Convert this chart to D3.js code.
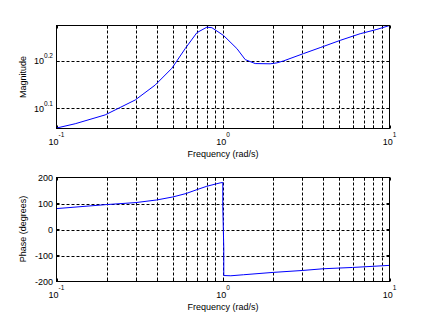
<!DOCTYPE html>
<html>
<head>
<meta charset="utf-8">
<script src="https://cdn.jsdelivr.net/npm/d3@7"></script>
<style>
  body { margin: 0; background: #fff; }
  text { font-family: Arial, "Liberation Sans", sans-serif; fill: #000; }
</style>
</head>
<body>
<svg id="chart" width="431" height="323"></svg>
<script>
// magnitude curve
const magFreq = [0.1, 0.1295, 0.196, 0.297, 0.3915, 0.4934, 0.593, 0.697, 0.80, 0.858,
  1.007, 1.212, 1.36, 1.561, 1.92, 2.107, 2.31, 3.045, 3.836, 5.057, 6.668, 8.40, 10];
const magValue = [1.144, 1.168, 1.219, 1.310, 1.408, 1.527, 1.679, 1.813, 1.862, 1.857,
  1.789, 1.679, 1.592, 1.562, 1.560, 1.567, 1.582, 1.639, 1.687, 1.747, 1.804, 1.842, 1.877];

// phase curve
const phaseFreq = [0.1, 0.2, 0.3, 0.4, 0.5, 0.6, 0.7, 0.8, 0.96, 0.997, 0.997,
  1.011, 1.011, 1.115, 1.33, 2, 3, 4, 6, 10];
const phaseValue = [80.4, 95.9, 103.6, 113.6, 125.2, 138.3, 153.7, 166.4, 179.2, 181, 87,
  -74, -177, -178, -174, -165, -157.6, -151, -146, -138];

// axes
const freqLim = [0.1, 10];
const magLim = [1.1415, 1.877];
const phaseLim = [-200, 200];
const xTickExp = ["-1", "0", "1"];
const magTickExp = ["0.1", "0.2"];
const phaseTicks = [-200, -100, 0, 100, 200];
const phaseGrid = [-100, 0, 100];

const svg = d3.select("#chart");
svg.append("rect").attr("width", 431).attr("height", 323).attr("fill", "#fff");

const left = 56.5, right = 389.5;
const x = d3.scaleLog().domain(freqLim).range([left, right]);

// minor + major positions between the decades
const xAll = [];
for (let e = -1; e < 1; e++) {
  for (let k = 1; k < 10; k++) xAll.push(k * Math.pow(10, e));
}
xAll.push(10);
const xGrid = xAll.filter(v => v > 0.1 && v < 10);

function drawPanel(top, bottom, y, hGrid, data, drawYLabels, yTitle, titleY) {
  const g = svg.append("g");

  // grid
  g.selectAll(".vg").data(xGrid).join("line")
    .attr("x1", d => Math.round(x(d)) + 0.5).attr("x2", d => Math.round(x(d)) + 0.5)
    .attr("y1", top).attr("y2", bottom)
    .attr("stroke", "#000").attr("stroke-width", 1).attr("stroke-dasharray", "3,2");
  g.selectAll(".hg").data(hGrid).join("line")
    .attr("x1", left).attr("x2", right)
    .attr("y1", d => Math.round(y(d)) + 0.5).attr("y2", d => Math.round(y(d)) + 0.5)
    .attr("stroke", "#000").attr("stroke-width", 1).attr("stroke-dasharray", "3,2");

  // ticks inward on bottom and top
  g.selectAll(".tb").data(xAll).join("line")
    .attr("x1", d => Math.round(x(d)) + 0.5).attr("x2", d => Math.round(x(d)) + 0.5)
    .attr("y1", bottom).attr("y2", bottom - 3)
    .attr("stroke", "#000");
  g.selectAll(".tt").data(xAll).join("line")
    .attr("x1", d => Math.round(x(d)) + 0.5).attr("x2", d => Math.round(x(d)) + 0.5)
    .attr("y1", top).attr("y2", top + 3)
    .attr("stroke", "#000");

  // curve
  const line = d3.line().x(d => x(d[0])).y(d => y(d[1]));
  g.append("path").datum(data)
    .attr("d", line)
    .attr("fill", "none").attr("stroke", "#0000ff").attr("stroke-width", 1);

  // box
  g.append("rect")
    .attr("x", left).attr("y", top)
    .attr("width", right - left).attr("height", bottom - top)
    .attr("fill", "none").attr("stroke", "#000").attr("stroke-width", 1);

  // x labels 10^e
  const xl = g.selectAll(".xl").data(xTickExp).join("text")
    .attr("x", d => x(Math.pow(10, +d)))
    .attr("y", bottom + 16)
    .attr("text-anchor", "middle")
    .attr("font-size", 9);
  xl.append("tspan").text("10");
  xl.append("tspan").text(d => d).attr("font-size", 6.5).attr("dy", -8);

  drawYLabels(g);

  g.append("text")
    .attr("x", (left + right) / 2).attr("y", bottom + 28.5)
    .attr("text-anchor", "middle").attr("font-size", 9)
    .text("Frequency (rad/s)");

  g.append("text")
    .attr("transform", `translate(25.5,${titleY}) rotate(-90)`)
    .attr("text-anchor", "middle").attr("font-size", 9)
    .text(yTitle);
}

// top: magnitude
const magTop = 25.5, magBottom = 128.5;
const yMag = d3.scaleLog().domain(magLim).range([magBottom, magTop]);
const magData = magFreq.map((f, i) => [f, magValue[i]]);
const magGrid = magTickExp.map(e => Math.pow(10, +e));
drawPanel(magTop, magBottom, yMag, magGrid, magData, g => {
  const yl = g.selectAll(".yl").data(magTickExp).join("text")
    .attr("x", 53).attr("y", d => yMag(Math.pow(10, +d)) + 3.5)
    .attr("text-anchor", "end").attr("font-size", 9);
  yl.append("tspan").text("10");
  yl.append("tspan").text(d => d).attr("font-size", 6.5).attr("dy", -6);
  g.selectAll(".ytl").data(magGrid).join("line")
    .attr("x1", left).attr("x2", left + 3)
    .attr("y1", d => Math.round(yMag(d)) + 0.5).attr("y2", d => Math.round(yMag(d)) + 0.5)
    .attr("stroke", "#000");
  g.selectAll(".ytr").data(magGrid).join("line")
    .attr("x1", right).attr("x2", right - 3)
    .attr("y1", d => Math.round(yMag(d)) + 0.5).attr("y2", d => Math.round(yMag(d)) + 0.5)
    .attr("stroke", "#000");
}, "Magnitude", 77);

// bottom: phase
const phTop = 177.5, phBottom = 281.5;
const yPh = d3.scaleLinear().domain(phaseLim).range([phBottom, phTop]);
const phData = phaseFreq.map((f, i) => [f, phaseValue[i]]);
drawPanel(phTop, phBottom, yPh, phaseGrid, phData, g => {
  g.selectAll(".yl").data(phaseTicks).join("text")
    .attr("x", 53).attr("y", d => yPh(d) + 3.5)
    .attr("text-anchor", "end").attr("font-size", 9)
    .text(d => d);
  g.selectAll(".ytl").data(phaseTicks).join("line")
    .attr("x1", left).attr("x2", left + 3)
    .attr("y1", d => yPh(d)).attr("y2", d => yPh(d))
    .attr("stroke", "#000");
  g.selectAll(".ytr").data(phaseTicks).join("line")
    .attr("x1", right).attr("x2", right - 3)
    .attr("y1", d => yPh(d)).attr("y2", d => yPh(d))
    .attr("stroke", "#000");
}, "Phase (degrees)", 229);
</script>
</body>
</html>
